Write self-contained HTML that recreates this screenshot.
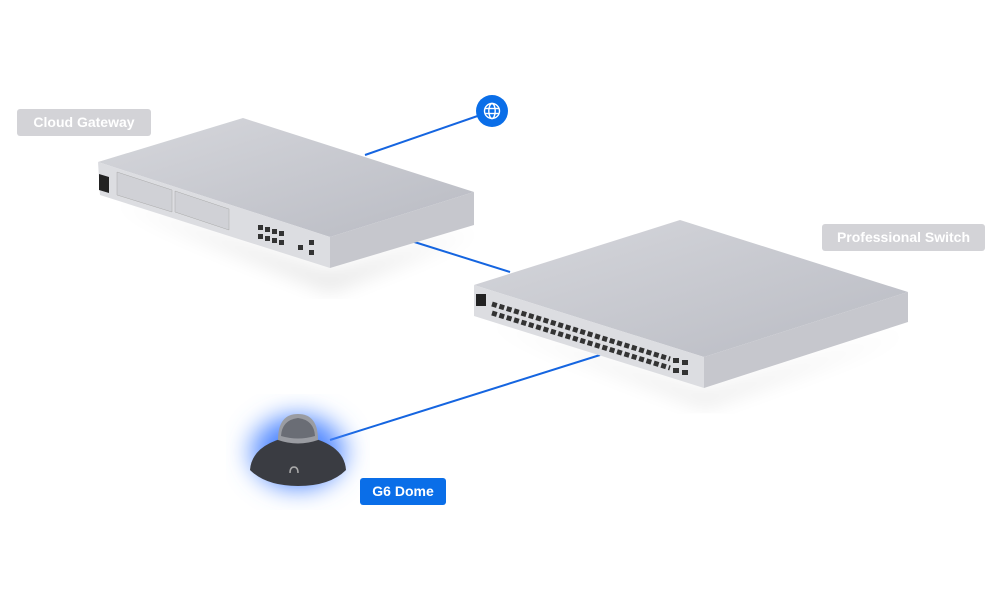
<!DOCTYPE html>
<html><head><style>
body{margin:0;width:1000px;height:600px;background:#fff;overflow:hidden;font-family:"Liberation Sans",sans-serif;position:relative}
.lbl{position:absolute;background:#d3d3d7;color:#fff;font-weight:bold;font-size:14px;border-radius:3px;line-height:27px;text-align:center}
</style></head><body>
<svg width="1000" height="600" style="position:absolute;left:0;top:0">
<defs>
<radialGradient id="glow" cx="50%" cy="50%" r="50%"><stop offset="0.55" stop-color="#3d7bff" stop-opacity="0.9"/><stop offset="1" stop-color="#6fa0ff" stop-opacity="0"/></radialGradient>
<filter id="blur"><feGaussianBlur stdDeviation="10"/></filter>
<linearGradient id="top" x1="0" y1="0" x2="1" y2="1"><stop offset="0" stop-color="#d6d7dc"/><stop offset="1" stop-color="#b9bbc3"/></linearGradient>
</defs>
<polygon points="110,200 330,275 480,230 330,290" fill="#000" opacity="0.12" filter="url(#blur)"/>
<polygon points="480,320 705,395 915,330 705,405" fill="#000" opacity="0.12" filter="url(#blur)"/>
<g stroke="#1565e0" stroke-width="2">
<line x1="492" y1="111" x2="365" y2="155"/>
<line x1="408" y1="240" x2="510" y2="272"/>
<line x1="600" y1="355" x2="330" y2="440"/>
</g>
<circle cx="492" cy="111" r="16" fill="#0a6ee8"/>
<g stroke="#fff" stroke-width="1.4" fill="none"><circle cx="492" cy="111" r="7.5"/><ellipse cx="492" cy="111" rx="3.2" ry="7.5"/><line x1="484.5" y1="108.5" x2="499.5" y2="108.5"/><line x1="484.5" y1="113.5" x2="499.5" y2="113.5"/></g>
<polygon points="98,162 243,118 474,192 330,237" fill="url(#top)"/>
<polygon points="98,162 330,237 330,268 100,195" fill="#dcdde1"/>
<polygon points="330,237 474,192 474,225 330,268" fill="#c6c7cd"/>
<polygon points="99,174 109,177 109,193 99,190" fill="#222"/>
<polygon points="117,172 172,190 172,212 117,195" fill="#d0d1d6" stroke="#aaa" stroke-width="0.5"/>
<polygon points="175,191 229,209 229,230 175,212" fill="#d0d1d6" stroke="#aaa" stroke-width="0.5"/>
<g fill="#333">
<rect x="258" y="225" width="5" height="5"/><rect x="265" y="227" width="5" height="5"/><rect x="272" y="229" width="5" height="5"/><rect x="279" y="231" width="5" height="5"/>
<rect x="258" y="234" width="5" height="5"/><rect x="265" y="236" width="5" height="5"/><rect x="272" y="238" width="5" height="5"/><rect x="279" y="240" width="5" height="5"/>
<rect x="298" y="245" width="5" height="5"/><rect x="309" y="240" width="5" height="5"/><rect x="309" y="250" width="5" height="5"/></g>
<polygon points="474,285 680,220 908,292 704,357" fill="url(#top)"/>
<polygon points="474,285 704,357 704,388 474,316" fill="#dcdde1"/>
<polygon points="704,357 908,292 908,322 704,388" fill="#c6c7cd"/>
<rect x="476" y="294" width="10" height="12" fill="#222"/>
<g stroke="#333" stroke-width="5" stroke-dasharray="5,2.7">
<line x1="492" y1="304" x2="670" y2="359"/>
<line x1="492" y1="313" x2="670" y2="368"/>
</g>
<g fill="#333"><rect x="673" y="358" width="6" height="5"/><rect x="682" y="360" width="6" height="5"/><rect x="673" y="368" width="6" height="5"/><rect x="682" y="370" width="6" height="5"/></g>
<ellipse cx="298" cy="452" rx="60" ry="48" fill="url(#glow)" filter="url(#blur)"/>
<path d="M250,470 Q252,442 298,435 Q344,442 346,470 Q330,486 298,486 Q266,486 250,470Z" fill="#3a3c42"/>
<path d="M278,440 Q278,414 298,414 Q318,414 318,440 Q298,447 278,440Z" fill="#9a9ca2"/>
<path d="M281,436 Q282,420 298,418 Q314,420 315,436 Q298,441 281,436Z" fill="#6a6d75"/>
<path d="M290,473 q0,-6 4,-6 q4,0 4,6" stroke="#aaa" stroke-width="1.5" fill="none"/>
</svg>
<div class="lbl" style="left:17px;top:109px;width:134px">Cloud Gateway</div>
<div class="lbl" style="left:822px;top:224px;width:163px">Professional Switch</div>
<div class="lbl" style="left:360px;top:478px;width:86px;background:#0a6ee8">G6 Dome</div>
</body></html>
